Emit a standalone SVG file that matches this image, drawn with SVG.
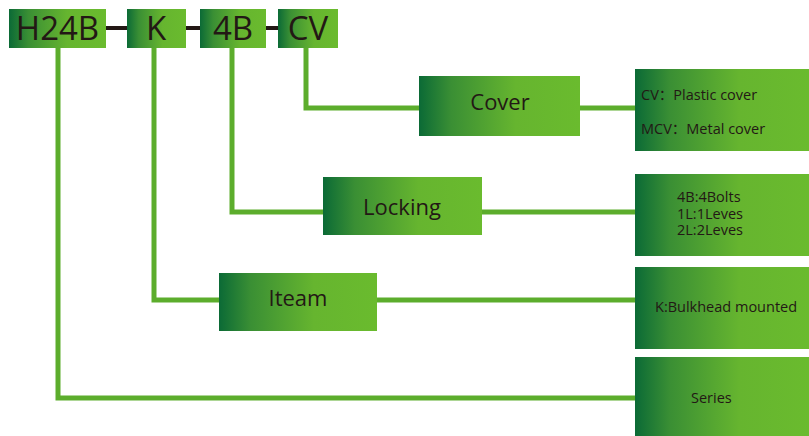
<svg xmlns="http://www.w3.org/2000/svg" width="809" height="436" viewBox="0 0 809 436">
<defs>
<linearGradient id="g" x1="0" y1="0" x2="1" y2="0">
<stop offset="0" stop-color="#0b6a36"/>
<stop offset="0.2" stop-color="#3a8f34"/>
<stop offset="0.6" stop-color="#66b52f"/>
<stop offset="1" stop-color="#6abb2e"/>
</linearGradient>
</defs>
<style>
.box{fill:url(#g);}
.t{font-family:"Open Sans","Noto Sans","Noto Sans CJK SC",sans-serif;fill:#231815;}
.big{font-size:33px;text-anchor:middle;}
.mid{font-size:22px;text-anchor:middle;}
.sm{font-size:14.5px;}
.gl{stroke:#5cad2c;stroke-width:5;fill:none;}
.bl{stroke:#231815;stroke-width:4;fill:none;}
</style>
<rect width="809" height="436" fill="#fff"/>
<g id="connectors">
<line class="bl" x1="105" y1="28" x2="128" y2="28"/>
<line class="bl" x1="185" y1="28" x2="201" y2="28"/>
<line class="bl" x1="265" y1="28" x2="279" y2="28"/>
<polyline class="gl" points="58,46 58,398 637,398"/>
<polyline class="gl" points="154,46 154,300 221,300"/>
<line class="gl" x1="375" y1="300" x2="637" y2="300"/>
<polyline class="gl" points="232,46 232,212 325,212"/>
<line class="gl" x1="480" y1="212" x2="637" y2="212"/>
<polyline class="gl" points="306,46 306,108 421,108"/>
<line class="gl" x1="578" y1="108" x2="637" y2="108"/>
</g>
<g id="n-h24b"><rect class="box" x="9" y="9" width="97" height="39"/><text class="t big" x="57.5" y="40">H24B</text></g>
<g id="n-k"><rect class="box" x="127" y="9" width="59" height="39"/><text class="t big" x="156" y="40">K</text></g>
<g id="n-4b"><rect class="box" x="200" y="9" width="66" height="39"/><text class="t big" x="233" y="40">4B</text></g>
<g id="n-cv"><rect class="box" x="278" y="9" width="60" height="39"/><text class="t big" x="308" y="40">CV</text></g>
<g id="n-cover"><rect class="box" x="419" y="76" width="161" height="60"/><text class="t mid" x="500" y="110">Cover</text></g>
<g id="n-locking"><rect class="box" x="323" y="177" width="159" height="58"/><text class="t mid" x="402" y="215">Locking</text></g>
<g id="n-iteam"><rect class="box" x="219" y="273" width="158" height="58"/><text class="t mid" x="298" y="306">Iteam</text></g>
<g id="n-cover-opts"><rect class="box" x="635" y="69" width="174" height="82"/><text class="t sm" x="641" y="100">CV：Plastic cover</text><text class="t sm" x="641" y="134">MCV：Metal cover</text></g>
<g id="n-locking-opts"><rect class="box" x="635" y="174" width="174" height="82"/><text class="t sm" x="677" y="202"><tspan x="677" y="202">4B:4Bolts</tspan><tspan x="677" y="218.5">1L:1Leves</tspan><tspan x="677" y="235">2L:2Leves</tspan></text></g>
<g id="n-iteam-opts"><rect class="box" x="635" y="267" width="174" height="82"/><text class="t sm" x="655" y="312">K:Bulkhead mounted</text></g>
<g id="n-series"><rect class="box" x="635" y="357" width="174" height="79"/><text class="t sm" x="691" y="403">Series</text></g>
</svg>
